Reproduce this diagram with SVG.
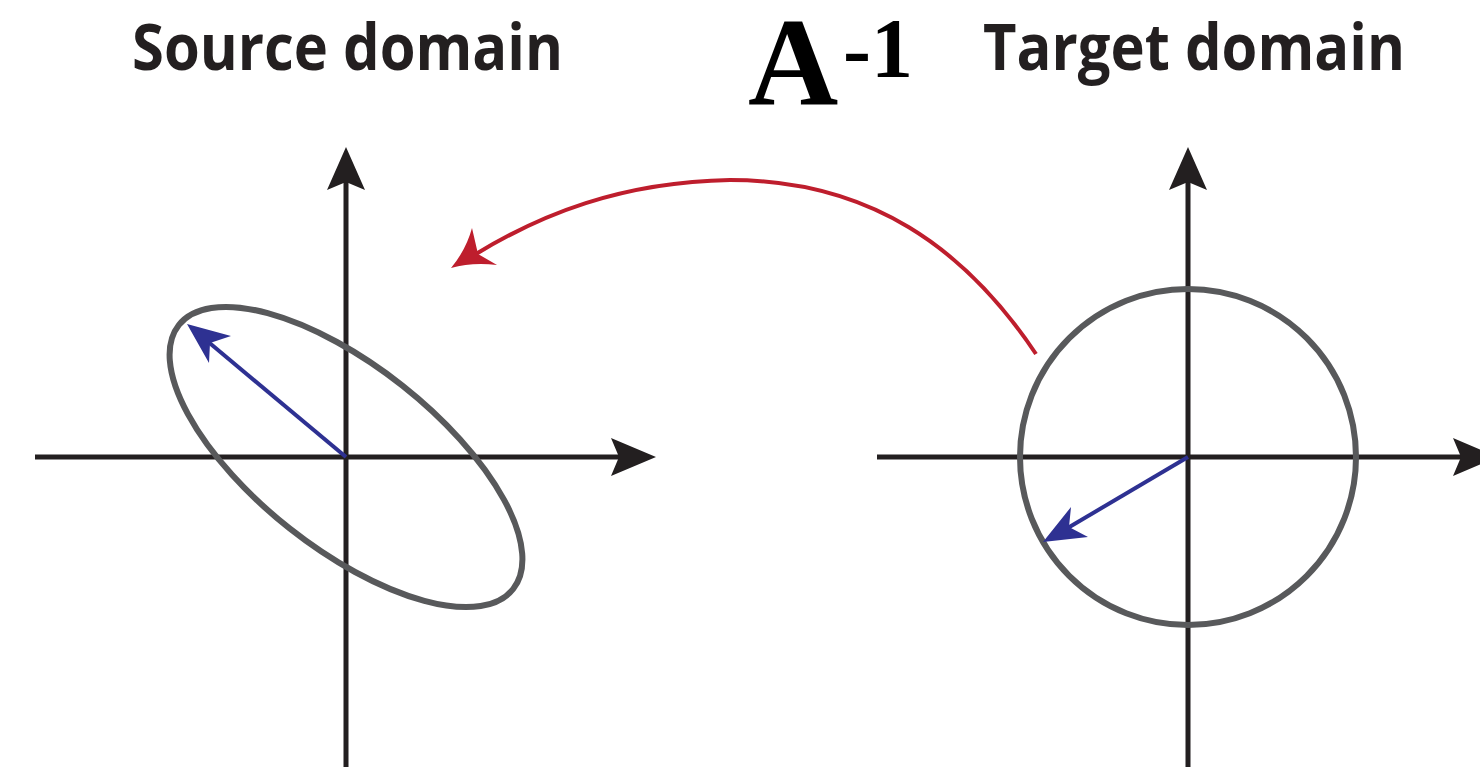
<svg xmlns="http://www.w3.org/2000/svg" width="1480" height="767" viewBox="0 0 1480 767">
<style>
.title{font-family:"Open Sans","Liberation Sans",sans-serif;font-weight:700;font-size:65px;fill:#231f20}
.math{font-family:"Liberation Serif","DejaVu Serif",serif;font-weight:700;fill:#000}
.axis{stroke:#231f20;stroke-width:5;fill:none}
.ahead{fill:#231f20}
.shape{stroke:#58595b;stroke-width:6;fill:none}
.vec{stroke:#2e3192;stroke-width:4;fill:none}
.vhead{fill:#2e3192}
.map{stroke:#be1e2d;stroke-width:4;fill:none}
.mhead{fill:#be1e2d}
</style>
<rect width="1480" height="767" fill="#fff"/>
<g id="labels">
<text class="title" x="132" y="70" textLength="431" lengthAdjust="spacingAndGlyphs">Source domain</text>
<text class="title" x="983" y="70" textLength="422" lengthAdjust="spacingAndGlyphs">Target domain</text>
<text class="math" x="748" y="104" font-size="125">A</text>
<text class="math" x="843" y="77" font-size="84">-1</text>
</g>
<g id="source-axes">
<line class="axis" x1="35" y1="457" x2="620" y2="457"/>
<path class="ahead" d="M656,457 L611,438 L619,457 L611,476 Z"/>
<line class="axis" x1="346" y1="767" x2="346" y2="182"/>
<path class="ahead" d="M346,147 L327,190 L346,182 L365,190 Z"/>
</g>
<g id="source-ellipse">
<ellipse class="shape" cx="346" cy="457" rx="213" ry="91" transform="rotate(38.3 346 457)"/>
</g>
<g id="source-vector">
<line class="vec" x1="346" y1="457" x2="206" y2="340"/>
<path class="vhead" d="M187,324 L231,336 L210,343 L209,363 Z"/>
</g>
<g id="target-axes">
<line class="axis" x1="877" y1="457" x2="1462" y2="457"/>
<path class="ahead" d="M1498,457 L1453,438 L1461,457 L1453,476 Z"/>
<line class="axis" x1="1188" y1="767" x2="1188" y2="182"/>
<path class="ahead" d="M1188,147 L1169,190 L1188,182 L1207,190 Z"/>
</g>
<g id="target-circle">
<circle class="shape" cx="1188" cy="457" r="168"/>
</g>
<g id="target-vector">
<line class="vec" x1="1188" y1="457" x2="1066" y2="529"/>
<path class="vhead" d="M1043,542 L1071,507 L1069,527 L1088,537 Z"/>
</g>
<g id="connectors">
<path class="map" d="M1036,354 C965,248 870,180 730,180 C620,182 540,215 476,254"/>
<path class="mhead" d="M451,268 Q466,250 472,228 L478,254 L497,265 Q472,262 451,268 Z"/>
</g>
</svg>
